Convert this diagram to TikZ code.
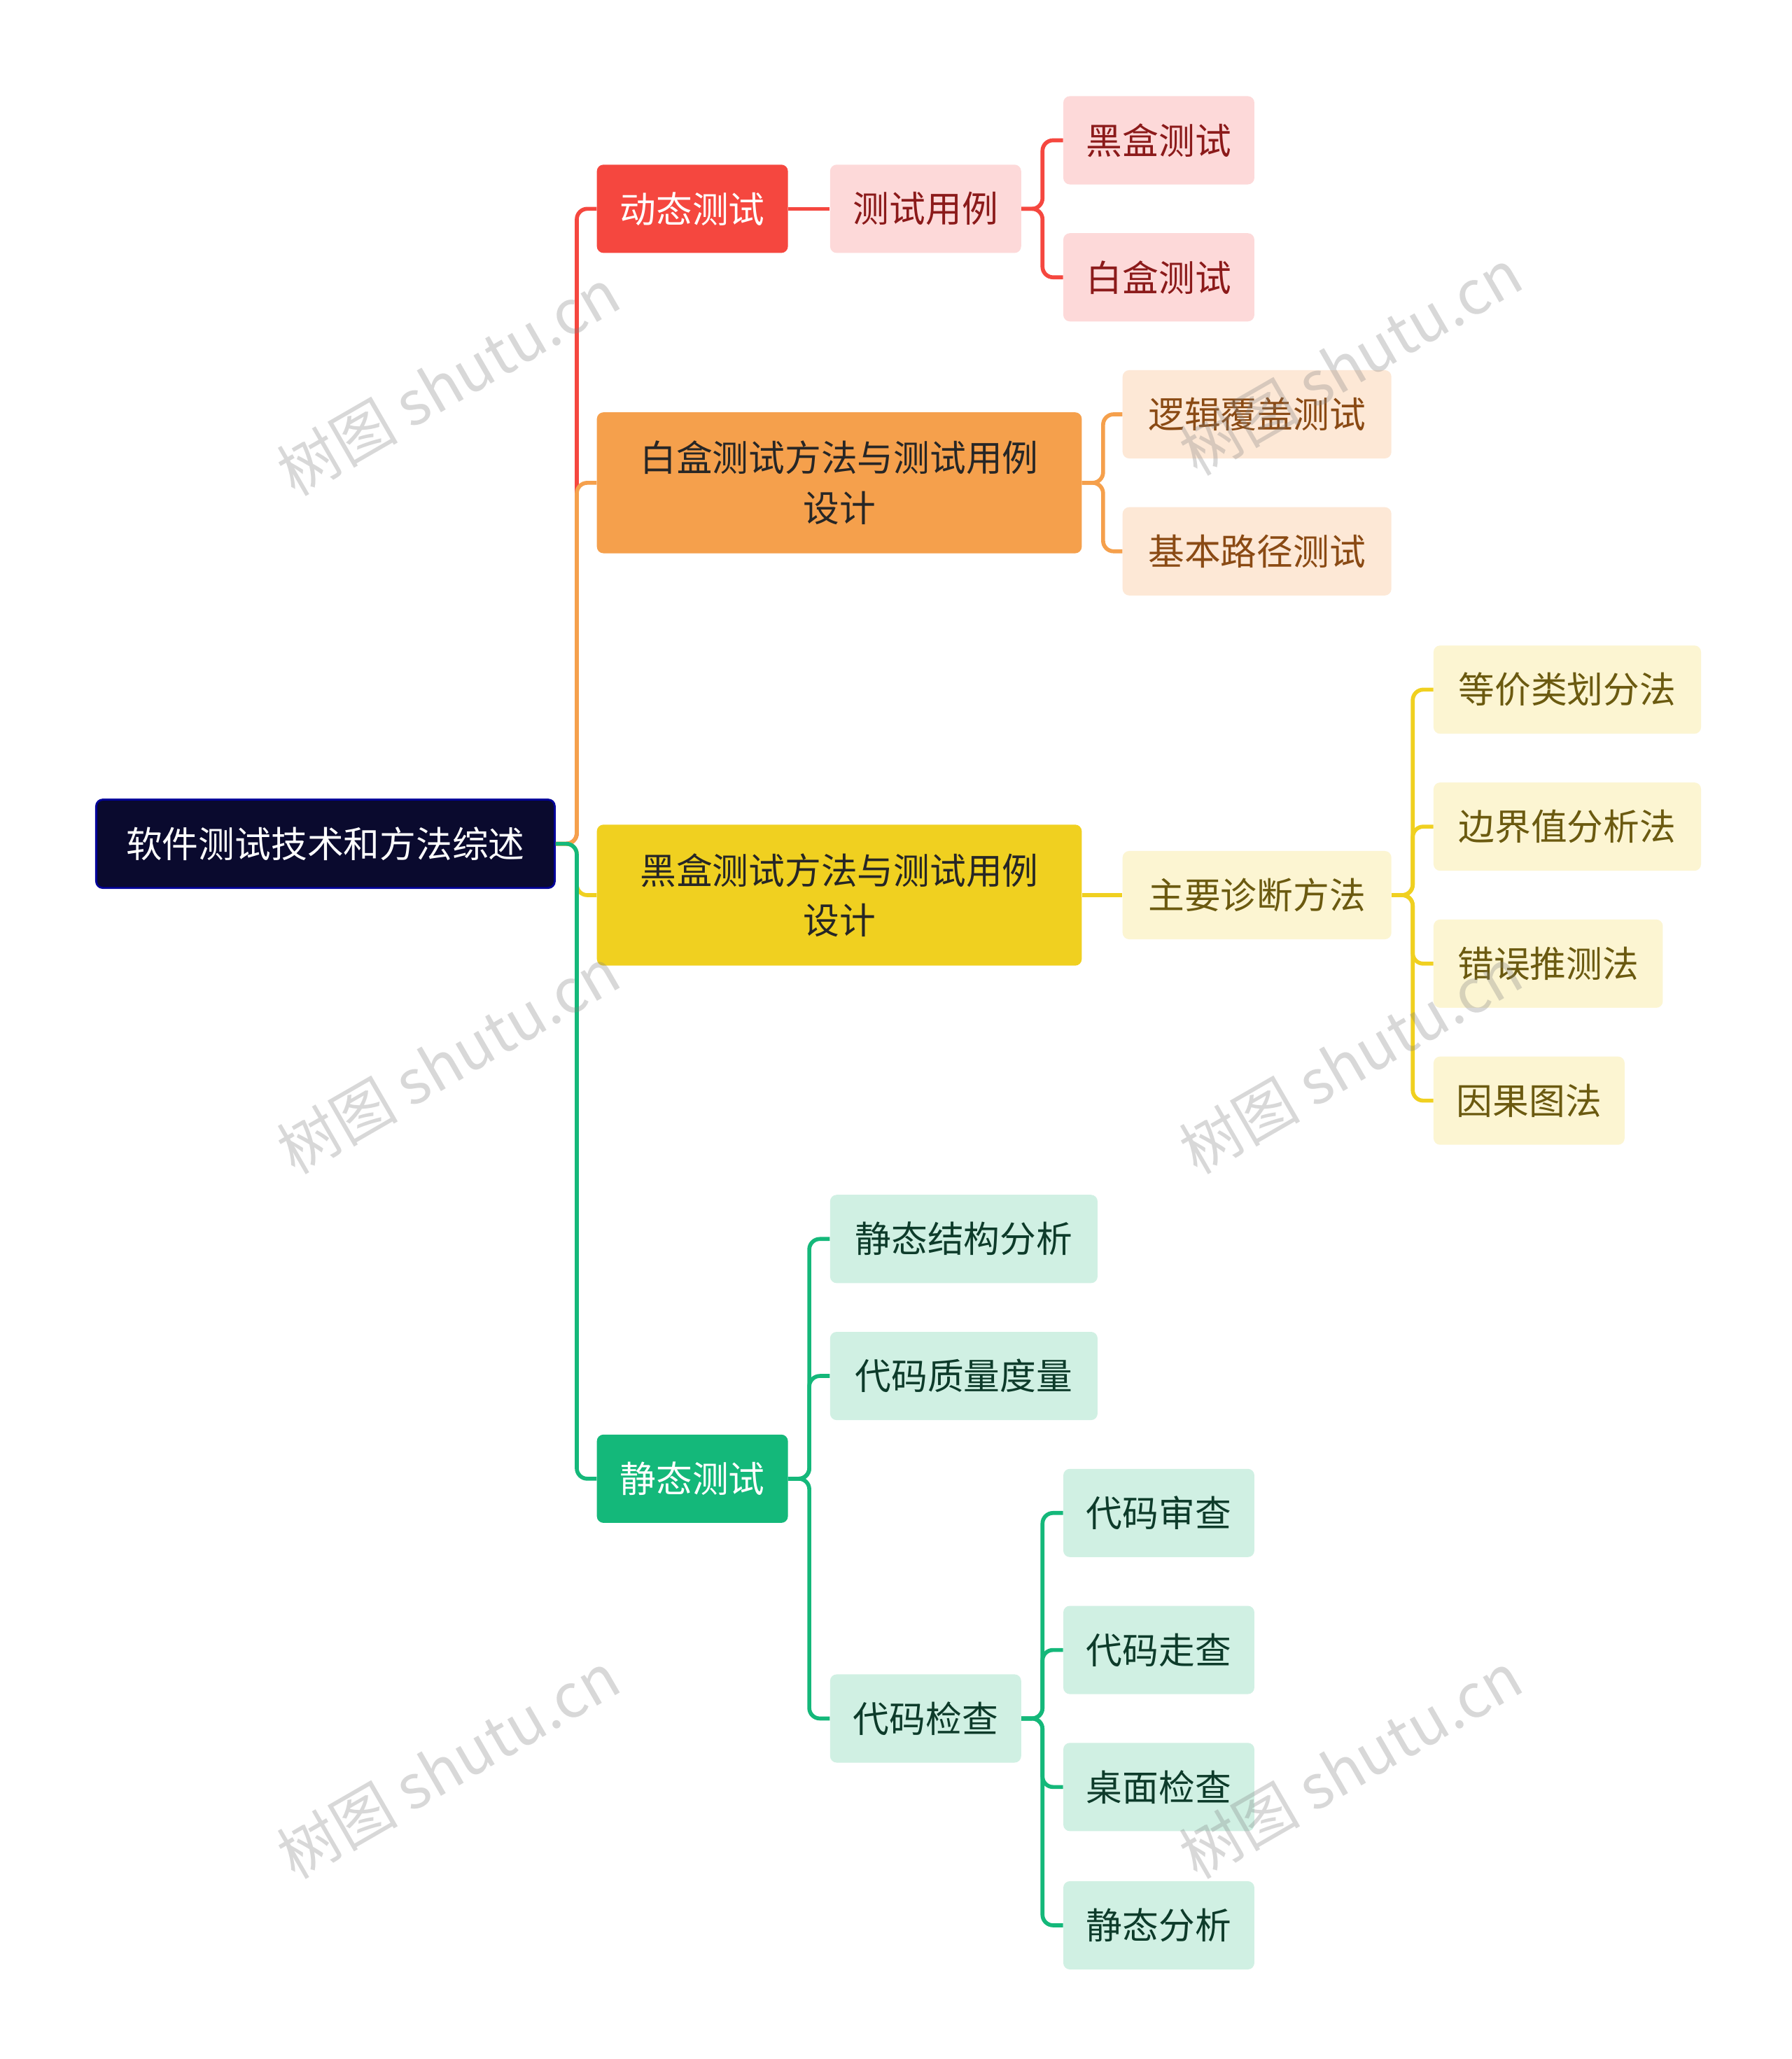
\documentclass[tikz,border=0pt]{standalone}
\usepackage{fontspec}
\setmainfont{Noto Sans CJK SC}
\newfontfamily\wm{Noto Sans CJK SC}
\definecolor{cRoot}{HTML}{0A0A2E}
\definecolor{cRed}{HTML}{F5473F}
\definecolor{cRedL}{HTML}{FDD9D9}
\definecolor{cRedT}{HTML}{8B1A1A}
\definecolor{cOr}{HTML}{F5A04C}
\definecolor{cOrL}{HTML}{FDE8D6}
\definecolor{cOrT}{HTML}{8A4A14}
\definecolor{cYe}{HTML}{F0D020}
\definecolor{cYeL}{HTML}{FCF5D2}
\definecolor{cYeT}{HTML}{6B5A10}
\definecolor{cGr}{HTML}{14B87A}
\definecolor{cGrL}{HTML}{D0F0E3}
\definecolor{cGrT}{HTML}{0D3B2A}
\tikzset{
 base/.style={rounded corners=5pt,inner sep=0pt,align=center,font=\fontsize{27.5}{38}\selectfont},
 rootbox/.style={base,fill=cRoot,draw=blue!60!black,line width=1.5pt,text=white},
 redm/.style={base,fill=cRed,text=white}, redl/.style={base,fill=cRedL,text=cRedT},
 orm/.style={base,fill=cOr,text=black!85}, orl/.style={base,fill=cOrL,text=cOrT},
 yem/.style={base,fill=cYe,text=black!85}, yel/.style={base,fill=cYeL,text=cYeT},
 grm/.style={base,fill=cGr,text=white}, grl/.style={base,fill=cGrL,text=cGrT},
 ln/.style={line width=3pt,rounded corners=8pt},
 wmark/.style={rotate=30,text=gray,opacity=0.3,font=\wm\fontsize{46}{50}\selectfont}
}
\newcommand\bx[7]{\node[#6,minimum width={(#4-#2)*1pt},minimum height={(#5-#3)*1pt}] (#1) at ({(#2+#4)/2},{(#3+#5)/2}) {#7};}
\newcommand\conn[4]{\draw[ln,#4] (#1.east) -- ++(#3,0) |- (#2.west);}
\begin{document}
\begin{tikzpicture}[x=1pt,y=-1pt]
\useasboundingbox (0,0) rectangle (1360,1563);
\fill[white] (0,0) rectangle (1360,1563);
\bx{root}{73}{607}{421}{674}{rootbox}{软件测试技术和方法综述}
\bx{dt}{453}{125}{598}{192}{redm}{动态测试}
\bx{tc}{630}{125}{775}{192}{redl}{测试用例}
\bx{hh}{807}{73}{952}{140}{redl}{黑盒测试}
\bx{bh}{807}{177}{952}{244}{redl}{白盒测试}
\bx{wb}{453}{313}{821}{420}{orm}{白盒测试方法与测试用例\\设计}
\bx{lj}{852}{281}{1056}{348}{orl}{逻辑覆盖测试}
\bx{jb}{852}{385}{1056}{452}{orl}{基本路径测试}
\bx{bb}{453}{626}{821}{733}{yem}{黑盒测试方法与测试用例\\设计}
\bx{zy}{852}{646}{1056}{713}{yel}{主要诊断方法}
\bx{dj}{1088}{490}{1291}{557}{yel}{等价类划分法}
\bx{bj}{1088}{594}{1291}{661}{yel}{边界值分析法}
\bx{cw}{1088}{698}{1262}{765}{yel}{错误推测法}
\bx{yg}{1088}{802}{1233}{869}{yel}{因果图法}
\bx{jt}{453}{1089}{598}{1156}{grm}{静态测试}
\bx{jg}{630}{907}{833}{974}{grl}{静态结构分析}
\bx{zl}{630}{1011}{833}{1078}{grl}{代码质量度量}
\bx{jc}{630}{1271}{775}{1338}{grl}{代码检查}
\bx{sc}{807}{1115}{952}{1182}{grl}{代码审查}
\bx{zc}{807}{1219}{952}{1286}{grl}{代码走查}
\bx{zm}{807}{1323}{952}{1390}{grl}{桌面检查}
\bx{jf}{807}{1428}{952}{1495}{grl}{静态分析}
\conn{root}{dt}{16}{cRed}
\conn{root}{wb}{16}{cOr}
\conn{root}{bb}{16}{cYe}
\conn{root}{jt}{16}{cGr}
\draw[ln,cRed] (dt.east) -- (tc.west);
\conn{tc}{hh}{16}{cRed}
\conn{tc}{bh}{16}{cRed}
\conn{wb}{lj}{16}{cOr}
\conn{wb}{jb}{16}{cOr}
\draw[ln,cYe] (bb.east) -- (zy.west);
\foreach \t in {dj,bj,cw,yg}{\conn{zy}{\t}{16}{cYe}}
\foreach \t in {jg,zl,jc}{\conn{jt}{\t}{16}{cGr}}
\foreach \t in {sc,zc,zm,jf}{\conn{jc}{\t}{16}{cGr}}
\foreach \p in {(340,290),(340,805),(340,1340),(1025,275),(1025,805),(1025,1340)}
 \node[wmark] at \p {树图 shutu.cn};
\end{tikzpicture}
\end{document}
